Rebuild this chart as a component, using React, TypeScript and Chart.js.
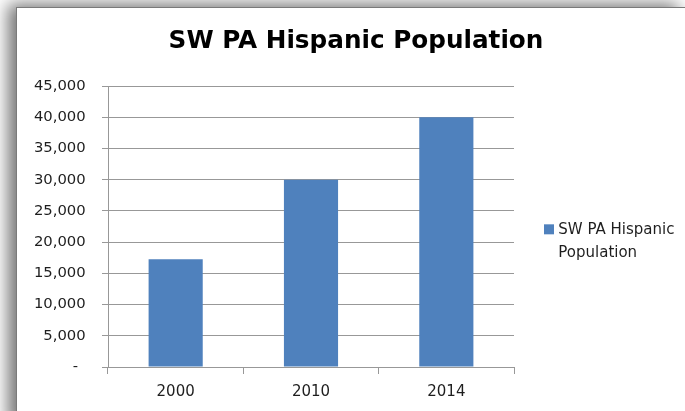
import React, { useEffect, useRef } from 'react';
import { Chart, registerables } from 'chart.js';

Chart.register(...registerables);

// ---- data ----
const titleText = 'SW PA Hispanic Population';
const seriesLabel = 'SW PA Hispanic Population';
const legendLines = ['SW PA Hispanic', 'Population'];
const categories = ['2000', '2010', '2014'];
const populationValues = [17250, 30000, 40000];
const yMin = 0;
const yMax = 45000;
const yStep = 5000;
const zeroTickLabel = '-\u2009 ';

const BAR_COLOR = '#4F81BD';
const GRID_COLOR = '#989898';
const TEXT_COLOR = '#1e1e1e';
const FONT = '"DejaVu Sans", sans-serif';

const sideLegend = {
  id: 'sideLegend',
  afterDraw(chart: any) {
    const { ctx, chartArea } = chart;
    const ds = chart.data.datasets[0];
    const x = chartArea.right + 30;
    const boxTop = (chartArea.top + chartArea.bottom) / 2 - 2.2;
    ctx.save();
    ctx.fillStyle = ds.backgroundColor;
    ctx.fillRect(x, boxTop, 10, 10);
    ctx.font = `15px ${FONT}`;
    ctx.fillStyle = TEXT_COLOR;
    ctx.textBaseline = 'alphabetic';
    ctx.textAlign = 'left';
    legendLines.forEach((line, i) => {
      ctx.fillText(line, x + 14.3, boxTop + 10 + i * 22.4);
    });
    ctx.restore();
  },
};

export default function App() {
  const canvasRef = useRef<HTMLCanvasElement | null>(null);

  useEffect(() => {
    document.body.style.margin = '0';
    const canvas = canvasRef.current;
    if (!canvas) return;
    const chart = new Chart(canvas, {
      type: 'bar',
      data: {
        labels: categories,
        datasets: [
          {
            label: seriesLabel,
            data: populationValues,
            backgroundColor: BAR_COLOR,
            borderWidth: 0,
            barPercentage: 0.4,
            categoryPercentage: 1,
            yAxisID: 'y',
          },
        ],
      },
      options: {
        responsive: false,
        animation: false,
        devicePixelRatio: 1,
        layout: { padding: { left: 10, right: 0, top: 0, bottom: 0 } },
        plugins: {
          legend: { display: false },
          tooltip: { enabled: false },
          title: {
            display: true,
            text: titleText,
            color: '#000000',
            font: { family: FONT, size: 24.7, weight: 'bold' },
            padding: { top: 18.6, bottom: 29.8 },
          },
        },
        scales: {
          x: {
            offset: true,
            grid: {
              display: true,
              offset: true,
              drawOnChartArea: false,
              drawTicks: true,
              tickLength: 7,
              color: GRID_COLOR,
            },
            border: { display: true, color: GRID_COLOR },
            ticks: {
              color: TEXT_COLOR,
              font: { family: FONT, size: 15 },
              padding: 9,
              maxRotation: 0,
            },
            afterFit: (s: any) => {
              s.height = 44;
            },
          },
          y: {
            position: 'left',
            min: yMin,
            max: yMax,
            grid: {
              color: GRID_COLOR,
              drawTicks: true,
              tickLength: 6,
            },
            border: { display: true, color: GRID_COLOR },
            ticks: {
              stepSize: yStep,
              color: TEXT_COLOR,
              font: { family: FONT, size: 14.8 },
              padding: 16.3,
              callback: (v: any) =>
                Number(v) === 0 ? zeroTickLabel : Number(v).toLocaleString('en-US'),
            },
            afterFit: (s: any) => {
              s.width = 81;
            },
          },
          yR: {
            position: 'right',
            display: true,
            grid: { display: false, drawTicks: false },
            border: { display: false },
            ticks: { display: false },
            afterFit: (s: any) => {
              s.width = 171;
            },
          },
        },
      },
      plugins: [sideLegend],
    } as any);
    return () => chart.destroy();
  }, []);

  return (
    <div
      style={{
        position: 'relative',
        width: 685,
        height: 411,
        overflow: 'hidden',
        background: '#ffffff',
      }}
    >
      <div
        style={{
          position: 'absolute',
          left: 16,
          top: 7,
          width: 668,
          height: 420,
          background: '#ffffff',
          borderLeft: '1px solid #7a7a7a',
          borderTop: '1px solid #7a7a7a',
          borderRight: '1px solid #9a9a9a',
          boxShadow: '-8px -3px 16px rgba(0,0,0,0.55)',
        }}
      >
        <canvas ref={canvasRef} width={668} height={403} style={{ display: 'block' }} />
      </div>
    </div>
  );
}
